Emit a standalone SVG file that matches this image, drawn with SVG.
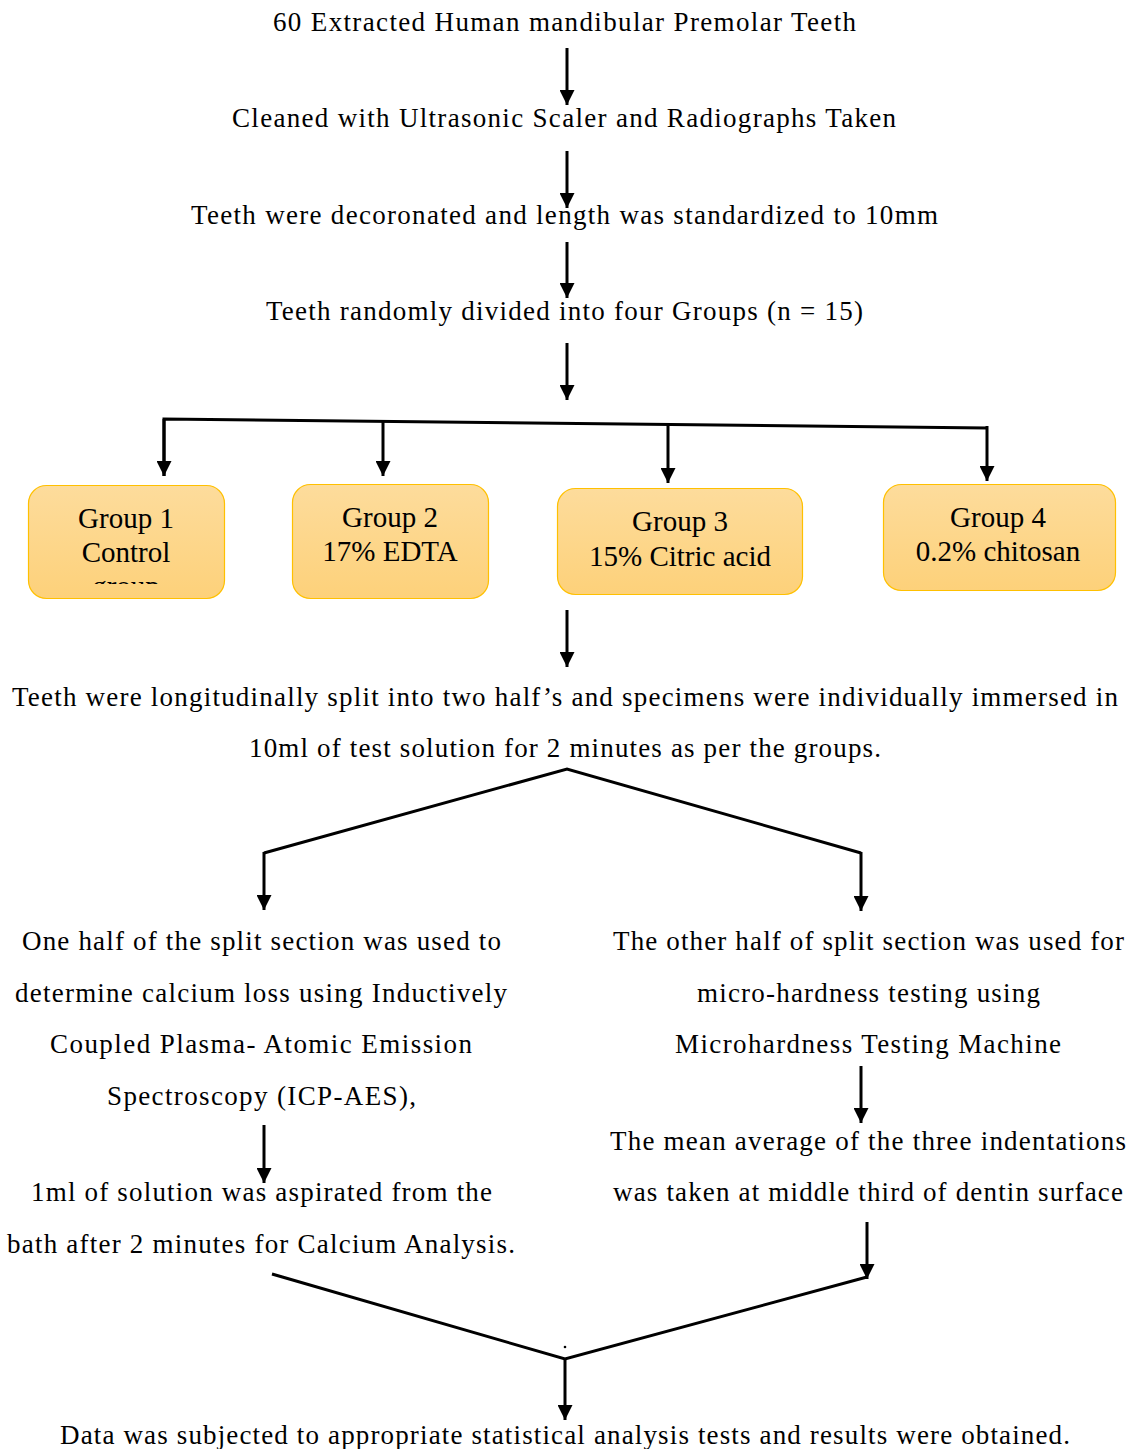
<svg xmlns="http://www.w3.org/2000/svg" width="1137" height="1449" viewBox="0 0 1137 1449">
<defs>
<linearGradient id="boxfill" x1="0" y1="0" x2="0" y2="1">
<stop offset="0" stop-color="#fddc9c"/>
<stop offset="1" stop-color="#fdd17a"/>
</linearGradient>
<marker id="ah" viewBox="0 0 10 10" refX="10" refY="5" markerWidth="5" markerHeight="5" markerUnits="strokeWidth" orient="auto">
<path d="M0,0 L10,5 L0,10 z" fill="#000"/>
</marker>
<clipPath id="clip1"><rect x="28" y="485" width="197" height="99"/></clipPath>
</defs>
<style>
text{font-family:'Liberation Serif','Times New Roman',Times,serif;fill:#000}
.t{font-size:27px}
.b{font-size:29px;text-anchor:middle}
.box{fill:url(#boxfill);stroke:#ffc000;stroke-width:1.2}
.c{fill:none;stroke:#000;stroke-width:3}
.a{marker-end:url(#ah)}
</style>
<g id="texts">
<text class="t" x="273" y="31" textLength="583" lengthAdjust="spacing">60 Extracted Human mandibular Premolar Teeth</text>
<text class="t" x="232" y="127" textLength="664" lengthAdjust="spacing">Cleaned with Ultrasonic Scaler and Radiographs Taken</text>
<text class="t" x="191" y="224" textLength="747" lengthAdjust="spacing">Teeth were decoronated and length was standardized to 10mm</text>
<text class="t" x="266" y="320" textLength="597" lengthAdjust="spacing">Teeth randomly divided into four Groups (n = 15)</text>
<text class="t" x="12" y="706" textLength="1106" lengthAdjust="spacing">Teeth were longitudinally split into two half’s and specimens were individually immersed in</text>
<text class="t" x="249" y="757" textLength="632" lengthAdjust="spacing">10ml of test solution for 2 minutes as per the groups.</text>
<text class="t" x="22" y="950" textLength="479" lengthAdjust="spacing">One half of the split section was used to</text>
<text class="t" x="15" y="1002" textLength="492" lengthAdjust="spacing">determine calcium loss using Inductively</text>
<text class="t" x="50" y="1053" textLength="422" lengthAdjust="spacing">Coupled Plasma- Atomic Emission</text>
<text class="t" x="107" y="1105" textLength="309" lengthAdjust="spacing">Spectroscopy (ICP-AES),</text>
<text class="t" x="31" y="1201" textLength="461" lengthAdjust="spacing">1ml of solution was aspirated from the</text>
<text class="t" x="7" y="1253" textLength="508" lengthAdjust="spacing">bath after 2 minutes for Calcium Analysis.</text>
<text class="t" x="613" y="950" textLength="511" lengthAdjust="spacing">The other half of split section was used for</text>
<text class="t" x="697" y="1002" textLength="343" lengthAdjust="spacing">micro-hardness testing using</text>
<text class="t" x="675" y="1053" textLength="386" lengthAdjust="spacing">Microhardness Testing Machine</text>
<text class="t" x="610" y="1150" textLength="516" lengthAdjust="spacing">The mean average of the three indentations</text>
<text class="t" x="613" y="1201" textLength="510" lengthAdjust="spacing">was taken at middle third of dentin surface</text>
<text class="t" x="60" y="1444" textLength="1010" lengthAdjust="spacing">Data was subjected to appropriate statistical analysis tests and results were obtained.</text>
</g>
<g id="group1">
<rect class="box" x="28.5" y="485.5" width="196" height="113" rx="18"/>
<text class="b" x="126" y="528">Group 1</text>
<text class="b" x="126" y="562">Control</text>
<text class="b" x="126" y="596" clip-path="url(#clip1)">group</text>
</g>
<g id="group2">
<rect class="box" x="292.5" y="484.5" width="196" height="114" rx="18"/>
<text class="b" x="390" y="527">Group 2</text>
<text class="b" x="390" y="561">17% EDTA</text>
</g>
<g id="group3">
<rect class="box" x="557.5" y="488.5" width="245" height="106" rx="18"/>
<text class="b" x="680" y="531">Group 3</text>
<text class="b" x="680" y="566">15% Citric acid</text>
</g>
<g id="group4">
<rect class="box" x="883.5" y="484.5" width="232" height="106" rx="18"/>
<text class="b" x="998" y="527">Group 4</text>
<text class="b" x="998" y="561">0.2% chitosan</text>
</g>
<g id="connectors">
<line class="c a" x1="567" y1="48" x2="567" y2="105"/>
<line class="c a" x1="567" y1="151" x2="567" y2="208"/>
<line class="c a" x1="567" y1="242" x2="567" y2="298"/>
<line class="c a" x1="567" y1="343" x2="567" y2="400"/>
<polyline class="c" points="164,476 164,419 987,428"/>
<line class="c a" x1="164" y1="419" x2="164" y2="476"/>
<line class="c a" x1="383" y1="421" x2="383" y2="476"/>
<line class="c a" x1="668" y1="424" x2="668" y2="483"/>
<line class="c a" x1="987" y1="426" x2="987" y2="481"/>
<line class="c a" x1="567" y1="610" x2="567" y2="667"/>
<polyline class="c" points="264,853 567,769 861,853"/>
<line class="c a" x1="264" y1="852" x2="264" y2="910"/>
<line class="c a" x1="861" y1="852" x2="861" y2="911"/>
<line class="c a" x1="861" y1="1066" x2="861" y2="1123"/>
<line class="c a" x1="264" y1="1125" x2="264" y2="1183"/>
<line class="c a" x1="867" y1="1222" x2="867" y2="1279"/>
<polyline class="c" points="272,1274 565,1359 867,1277"/>
<line class="c a" x1="565" y1="1358" x2="565" y2="1420"/>
<circle cx="565" cy="1347" r="1.3" fill="#000"/>
</g>
</svg>
